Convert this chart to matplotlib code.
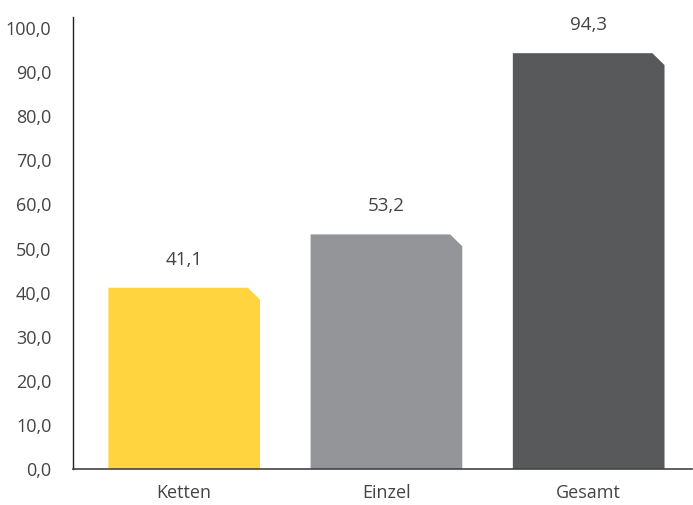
import matplotlib.pyplot as plt
from matplotlib.patches import Polygon
from matplotlib.ticker import FuncFormatter

plt.rcParams['font.family'] = ['Open Sans', 'DejaVu Sans']

categories = ["Ketten", "Einzel", "Gesamt"]
values = [41.1, 53.2, 94.3]
colors = ["#FFD43F", "#939598", "#58595B"]

TEXT = "#444444"
WIDTH = 0.75

fig = plt.figure(figsize=(6.93, 5.05), dpi=100)
ax = fig.add_axes([0.1053, 0.0713, 0.893, 0.895])

ax.set_xlim(-0.55, 2.51)
ax.set_ylim(0, 102.5)

# bars with a cut top-right corner
cut_x = 0.06
cut_y = 2.7
for i, (v, c) in enumerate(zip(values, colors)):
    x0, x1 = i - WIDTH / 2, i + WIDTH / 2
    pts = [(x0, 0), (x1, 0), (x1, v - cut_y), (x1 - cut_x, v), (x0, v)]
    ax.add_patch(Polygon(pts, closed=True, facecolor=c, edgecolor="none"))
    ax.text(i, v + 5.2, f"{v:.1f}".replace(".", ","), ha="center", va="baseline",
            fontsize=13.5, color=TEXT)

ax.set_xticks(range(len(categories)))
ax.set_xticklabels(categories)
ax.set_yticks(range(0, 101, 10))
ax.yaxis.set_major_formatter(FuncFormatter(lambda y, _: f"{y:.1f}".replace(".", ",")))
ax.tick_params(length=0, labelsize=13, colors=TEXT)
ax.tick_params(axis="x", pad=11)
ax.tick_params(axis="y", pad=15.5)

for s in ["top", "right"]:
    ax.spines[s].set_visible(False)
ax.spines["left"].set_color("#222222")
ax.spines["left"].set_linewidth(1.0)
ax.spines["bottom"].set_color("#444444")
ax.spines["bottom"].set_linewidth(1.2)

fig.savefig("out.png", dpi=100)
